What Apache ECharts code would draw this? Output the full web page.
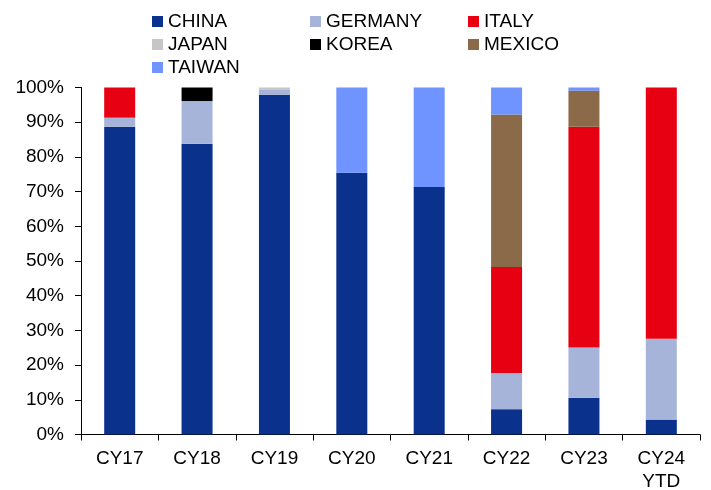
<!DOCTYPE html>
<html>
<head>
<meta charset="utf-8">
<script src="https://cdn.jsdelivr.net/npm/echarts@6/dist/echarts.min.js"></script>
<style>
  html, body { margin: 0; padding: 0; background: #fff; }
  #chart { width: 711px; height: 490px; }
</style>
</head>
<body>
<div id="chart"></div>
<script>
// Share of volume by origin country, per calendar year (%)
const categories = ['CY17', 'CY18', 'CY19', 'CY20', 'CY21', 'CY22', 'CY23', 'CY24\nYTD'];
const countries = ['CHINA', 'GERMANY', 'ITALY', 'JAPAN', 'KOREA', 'MEXICO', 'TAIWAN'];
const colors = ['#0A318C', '#A7B4D9', '#E60012', '#C6C6C6', '#000000', '#8B6A4A', '#6F94FF'];

const china   = [88.7, 83.8, 97.9, 75.4, 71.3, 7.3, 10.6, 4.3];
const germany = [2.6, 12.3, 1.4, 0, 0, 10.4, 14.5, 23.3];
const italy   = [8.7, 0, 0, 0, 0, 30.6, 63.6, 72.4];
const japan   = [0, 0, 0.7, 0, 0, 0, 0, 0];
const korea   = [0, 3.9, 0, 0, 0, 0, 0, 0];
const mexico  = [0, 0, 0, 0, 0, 43.9, 10.4, 0];
const taiwan  = [0, 0, 0, 24.6, 28.7, 7.8, 0.9, 0];

const seriesValues = [china, germany, italy, japan, korea, mexico, taiwan];
const yTicks = { min: 0, max: 100, step: 10 };

const font = '"Liberation Sans", Arial, sans-serif';

const chart = echarts.init(document.getElementById('chart'), null, { renderer: 'canvas' });

chart.setOption({
  animation: false,
  color: colors,
  textStyle: { fontFamily: font },
  legend: {
    left: 152,
    top: 10,
    width: 480,
    itemWidth: 11,
    itemHeight: 11,
    itemGap: 0,
    icon: 'rect',
    padding: 0,
    data: countries,
    textStyle: {
      fontFamily: font,
      fontSize: 19,
      color: '#000',
      width: 142,
      lineHeight: 23
    }
  },
  grid: {
    left: 81, right: 11, top: 87.5, bottom: 55.5,
    containLabel: false,
    outerBoundsMode: 'none'
  },
  xAxis: {
    type: 'category',
    data: categories,
    axisLine: { lineStyle: { color: '#000', width: 1 } },
    axisTick: { show: true, length: 6, lineStyle: { color: '#000' } },
    axisLabel: {
      fontFamily: font,
      fontSize: 19,
      color: '#000',
      margin: 13,
      lineHeight: 23
    }
  },
  yAxis: {
    type: 'value',
    min: yTicks.min,
    max: yTicks.max,
    interval: yTicks.step,
    axisLine: { show: true, lineStyle: { color: '#000', width: 1 } },
    axisTick: { show: true, length: 6, lineStyle: { color: '#000' } },
    splitLine: { show: false },
    axisLabel: {
      fontFamily: font,
      fontSize: 19,
      color: '#000',
      margin: 17,
      formatter: '{value}%'
    }
  },
  series: countries.map((name, i) => ({
    name: name,
    type: 'bar',
    stack: 'share',
    barWidth: 31,
    data: seriesValues[i],
    itemStyle: { color: colors[i] }
  }))
});
</script>
</body>
</html>
